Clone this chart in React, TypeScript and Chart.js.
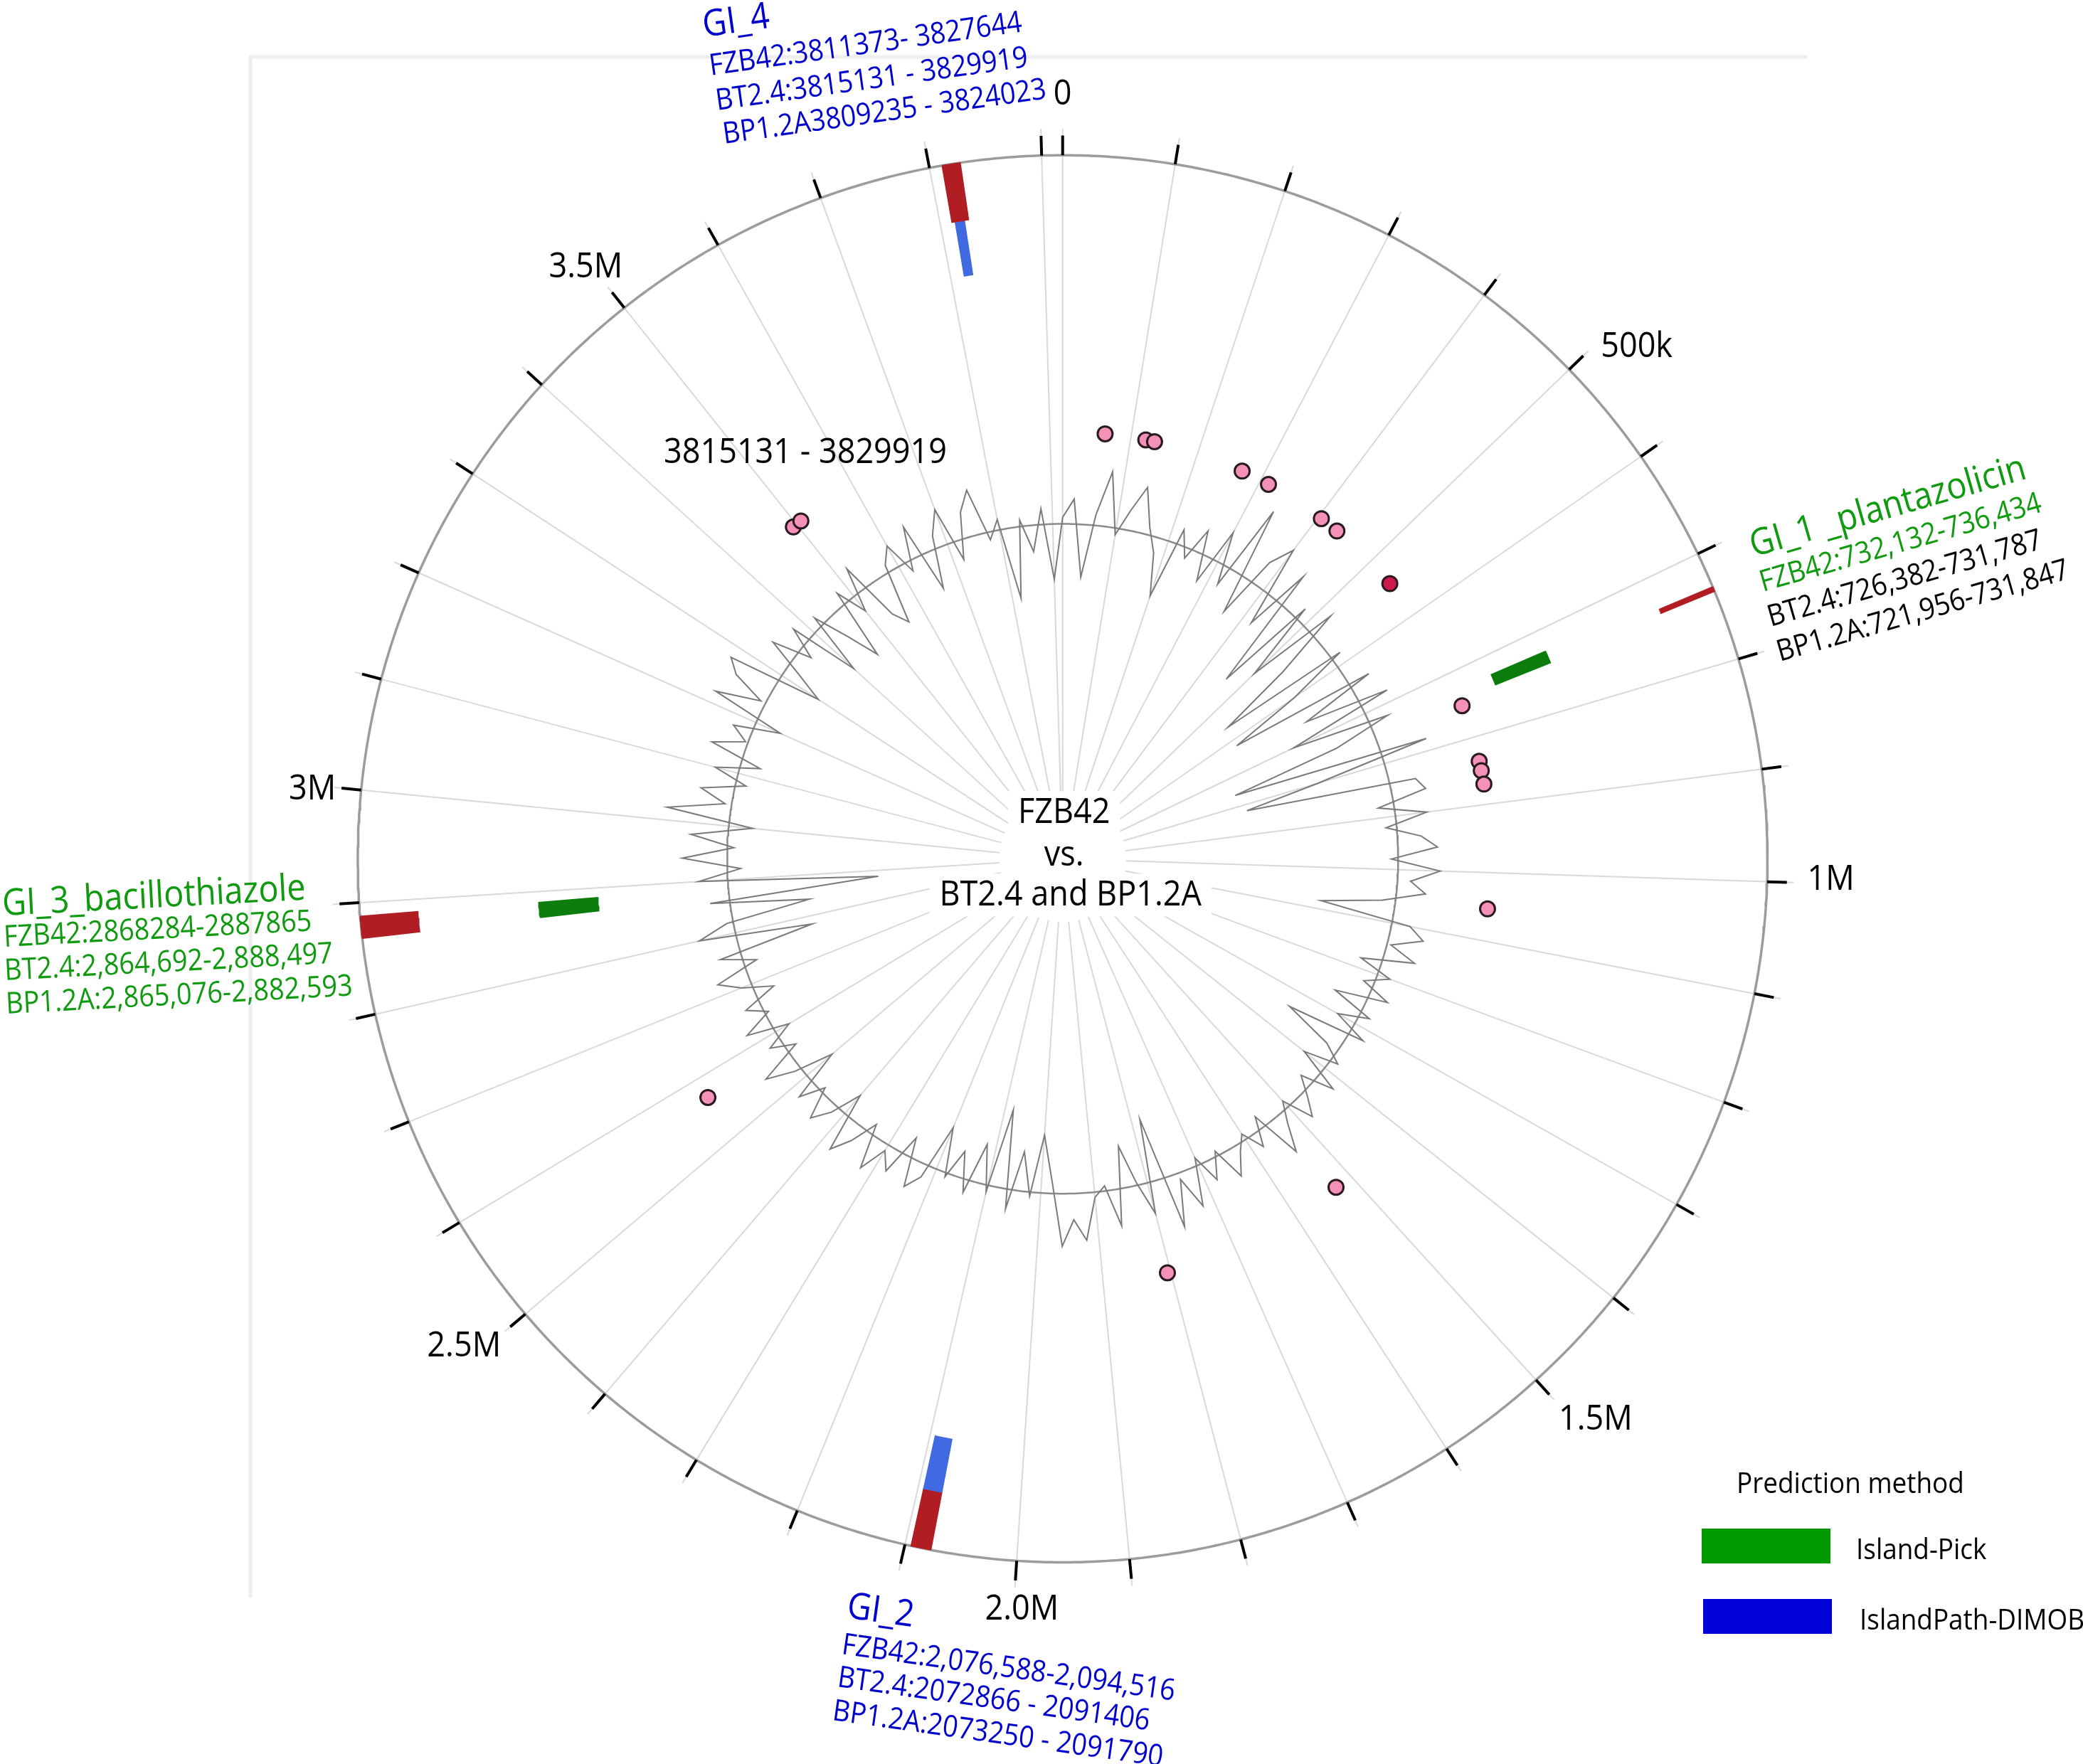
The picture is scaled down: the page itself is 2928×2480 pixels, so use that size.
import React, { useEffect, useRef } from 'react';
import { Chart, registerables } from 'chart.js';

Chart.register(...registerables);

const W = 2928;
const H = 2480;

// ---------------- data ----------------
const GENOME_LENGTH = 3918589;

const tickPositions = [
  0, 100000, 200000, 300000, 400000, 500000, 600000, 700000, 800000, 900000,
  1000000, 1100000, 1200000, 1300000, 1400000, 1500000, 1600000, 1700000, 1800000, 1900000,
  2000000, 2100000, 2200000, 2300000, 2400000, 2500000, 2600000, 2700000, 2800000, 2900000,
  3000000, 3100000, 3200000, 3300000, 3400000, 3500000, 3600000, 3700000, 3800000, 3900000,
];
const tickLabelPositions = [0, 500000, 1000000, 1500000, 2000000, 2500000, 3000000, 3500000];
const tickLabels = ['0', '500k', '1M', '1.5M', '2.0M', '2.5M', '3M', '3.5M'];

// GC content deviation (%) in 20 kb windows, from position 0
const gcWindow = 20000;
const gcDeviation = [
  0.5, 1.9, -4.0, 0.8, 4.2, -0.5, 1.5, 3.5, 0.6, -1.2,
  -4.4, 1.2, -0.8, 1.8, -2.0, 2.5, -1.5, 5.4, -3.0, 2.0,
  3.8, -2.5, 2.7, -7.0, 1.0, -5.2, 2.0, -3.5, -9.4, 0.8,
  -4.0, -9.7, 1.7, -4.2, 2.3, -6.0, 1.5, -3.0, -11.5, 3.6,
  -5.3, -11.0, 2.0, 2.6, -1.2, 2.4, -0.8, 1.8, 3.0, -0.5,
  3.2, 1.0, 2.2, -1.0, -5.6, 1.4, 2.6, 0.3, 2.4, -1.6,
  1.0, -0.8, 1.5, -2.5, 0.8, -1.5, 1.2, -4.9, -1.0, 0.6,
  -2.0, 1.5, -1.0, 0.4, 1.8, -0.6, 0.9, 3.0, -1.0, 1.2,
  -0.5, 0.6, 2.2, -0.4, 1.6, -0.6, 3.0, 0.5, 4.0, -4.8,
  2.4, -0.2, -3.2, 2.8, -0.4, 0.4, 3.6, 2.0, 4.0, -1.0,
  -4.4, 0.3, -3.0, 1.5, -6.0, 0.5, -3.0, 1.0, -2.0, 0.3,
  -3.4, 1.0, 2.2, -1.5, 1.8, 0.5, 2.6, -0.8, 1.3, 2.8,
  -1.8, 0.6, 2.0, -0.4, 1.5, -2.5, 0.5, 2.6, -0.8, 1.0,
  -1.2, 2.0, -0.3, 1.2, -1.5, 0.8, 2.4, -1.0, 1.6, -5.8,
  2.8, 0.5, -6.0, 1.5, -11.4, 2.2, -1.0, 3.4, -0.5, 2.8,
  -1.8, 4.8, 0.5, 2.5, -0.8, 1.8, -1.5, 2.6, 0.2, 1.5,
  -2.0, 3.8, 0.4, 3.0, 4.0, -3.3, -1.0, 2.0, -1.0, 1.4,
  -4.0, 0.8, -2.0, -4.5, 1.0, -1.4, 2.0, -2.8, -4.0, 0.6,
  1.8, -0.8, 2.5, -3.0, 1.0, 2.8, -1.5, 2.0, 3.5, -0.6,
  0.8, -5.4, 0.5, -2.0, 1.2, -4.2,
];

// genomic islands [start, end]
const fzb42Islands = [
  [732132, 736434],
  [2076588, 2094516],
  [2868284, 2887865],
  [3811373, 3827644],
];
const dimobIslands = [
  [2076588, 2094516],
  [3814500, 3823500],
];
const islandPickIslands = [
  [726000, 741000],
  [2869000, 2887000],
];

// feature points on the middle track
const pointPositions = [
  62000, 122000, 135000, 270000, 313000, 405000, 434000, 543000, 751000,
  836000, 850000, 870000, 1053000, 1527000, 1805000, 2569000, 3494000, 3508000,
];
const pointKinds = [
  'a', 'a', 'a', 'a', 'a', 'a', 'a', 'b', 'a',
  'a', 'a', 'a', 'a', 'a', 'a', 'a', 'a', 'a',
];

const gi4Lines = ['GI_4', 'FZB42:3811373- 3827644', 'BT2.4:3815131 - 3829919', 'BP1.2A3809235 - 3824023'];
const gi1Lines = ['GI_1 _plantazolicin', 'FZB42:732,132-736,434', 'BT2.4:726,382-731,787', 'BP1.2A:721,956-731,847'];
const gi3Lines = ['GI_3_bacillothiazole', 'FZB42:2868284-2887865', 'BT2.4:2,864,692-2,888,497', 'BP1.2A:2,865,076-2,882,593'];
const gi2Lines = ['GI_2', 'FZB42:2,076,588-2,094,516', 'BT2.4:2072866 - 2091406', 'BP1.2A:2073250 - 2091790'];
const centerLines = ['FZB42', 'vs.', 'BT2.4 and BP1.2A'];
const regionLabel = '3815131 - 3829919';
const legendTitle = 'Prediction method';
const legendItems = ['Island-Pick', 'IslandPath-DIMOB'];

// ---------------- layout ----------------
const CENTER_X = 1494;
const CENTER_Y = 1207;
const OUTER_PX = 1000;
const UNIT = OUTER_PX / 100;
const X_MIN = -CENTER_X / UNIT;
const X_MAX = (W - CENTER_X) / UNIT;
const Y_MAX = CENTER_Y / UNIT;
const Y_MIN = -(H - CENTER_Y) / UNIT;

const R_OUTER = 100;
const R_INNER = 47.6;
const R_POINTS = 60.7;
const R_TICK = 102.8;
const R_SPOKE_IN = 9;
const R_SPOKE_OUT = 103.8;
const RED_TRACK = [91.8, 100];
const BLUE_TRACK = [84, 91.8];
const GREEN_TRACK = [66.2, 74.6];
const GC_GAIN = 1.87;
// pixel offsets of tick label centres from the tick ends
const TICK_LABEL_OFFSETS = [
  [0, -58], [75, -12], [62, -4], [65, 35], [9, 41], [-65, 27], [-41, 2], [-37, -35],
];

const FONT = '"Open Sans", "Noto Sans", sans-serif';
const BLUE_TEXT = '#0000cc';
const GREEN_TEXT = '#109a10';

function polar(pos: number, r: number) {
  const a = (pos / GENOME_LENGTH) * Math.PI * 2;
  return { x: r * Math.sin(a), y: r * Math.cos(a) };
}
const GAP = { x: null as any, y: null as any };

function circlePoints(r: number) {
  const pts = [];
  const n = 720;
  for (let i = 0; i <= n; i++) pts.push(polar((i / n) * GENOME_LENGTH, r));
  return pts;
}

function radialSegments(positions: number[], r1: number, r2: number) {
  const pts: any[] = [];
  positions.forEach((p) => {
    pts.push(polar(p, r1), polar(p, r2), GAP);
  });
  return pts;
}

function sectorPolygon(start: number, end: number, r1: number, r2: number) {
  const pts: any[] = [];
  const steps = 6;
  for (let i = 0; i <= steps; i++) pts.push(polar(start + ((end - start) * i) / steps, r2));
  for (let i = steps; i >= 0; i--) pts.push(polar(start + ((end - start) * i) / steps, r1));
  pts.push(polar(start, r2));
  return pts;
}

function lineDs(data: any[], color: string, width: number, order: number) {
  return {
    data,
    showLine: true,
    borderColor: color,
    borderWidth: width,
    pointRadius: 0,
    fill: false,
    spanGaps: false,
    order,
  };
}

function sectorDs(range: number[], track: number[], color: string) {
  return {
    data: sectorPolygon(range[0], range[1], track[0], track[1]),
    showLine: true,
    borderColor: color,
    backgroundColor: color,
    borderWidth: 1.5,
    pointRadius: 0,
    fill: 'shape',
    order: 2,
  };
}

function drawText(
  ctx: CanvasRenderingContext2D,
  text: string,
  x: number,
  y: number,
  size: number,
  color: string,
  rot = 0,
  align: CanvasTextAlign = 'left',
  baseline: CanvasTextBaseline = 'alphabetic',
) {
  ctx.save();
  ctx.translate(x, y);
  ctx.rotate((rot * Math.PI) / 180);
  ctx.scale(0.9, 1);
  ctx.font = `${size}px ${FONT}`;
  ctx.fillStyle = color;
  ctx.textAlign = align;
  ctx.textBaseline = baseline;
  ctx.fillText(text, 0, 0);
  ctx.restore();
}

const framePlugin = {
  id: 'frameLines',
  beforeDatasetsDraw(chart: any) {
    const ctx = chart.ctx;
    ctx.save();
    ctx.strokeStyle = '#eeeeee';
    ctx.lineWidth = 5;
    ctx.beginPath();
    ctx.moveTo(2540, 80);
    ctx.lineTo(352, 80);
    ctx.lineTo(352, 2246);
    ctx.stroke();
    ctx.restore();
  },
};

const textPlugin = {
  id: 'genomeText',
  afterDatasetsDraw(chart: any) {
    const ctx: CanvasRenderingContext2D = chart.ctx;
    const xs = chart.scales.x;
    const ys = chart.scales.y;
    const toPx = (p: { x: number; y: number }) => ({ x: xs.getPixelForValue(p.x), y: ys.getPixelForValue(p.y) });

    // tick labels, placed beyond the tick ends
    tickLabelPositions.forEach((pos, i) => {
      const p = toPx(polar(pos, R_TICK));
      const o = TICK_LABEL_OFFSETS[i];
      drawText(ctx, tickLabels[i], p.x + o[0], p.y + o[1], 50, '#000', 0, 'center', 'middle');
    });

    // centre text with white boxes
    const c = toPx({ x: 0, y: 0 });
    const offs = [
      { dx: 2, dy: -65 },
      { dx: 2, dy: -5 },
      { dx: 11, dy: 51 },
    ];
    ctx.save();
    ctx.font = `50px ${FONT}`;
    centerLines.forEach((t, i) => {
      const w = ctx.measureText(t).width * 0.9;
      ctx.fillStyle = '#fff';
      ctx.fillRect(c.x + offs[i].dx - w / 2 - 14, c.y + offs[i].dy - 30, w + 28, 60);
    });
    ctx.restore();
    centerLines.forEach((t, i) => {
      drawText(ctx, t, c.x + offs[i].dx, c.y + offs[i].dy, 50, '#000', 0, 'center', 'middle');
    });

    drawText(ctx, regionLabel, 1132, 637, 50, '#000', 0, 'center', 'middle');

    // GI_4 block
    const gi4Pos = [[990, 52], [999, 106], [1008, 155], [1018, 202]];
    gi4Lines.forEach((t, i) => drawText(ctx, t, gi4Pos[i][0], gi4Pos[i][1], i === 0 ? 52 : 42, BLUE_TEXT, -8));

    // GI_1 block
    const gi1Pos = [[2465, 783], [2478, 832], [2489, 881], [2502, 930]];
    const gi1Col = [GREEN_TEXT, GREEN_TEXT, '#000', '#000'];
    gi1Lines.forEach((t, i) => drawText(ctx, t, gi1Pos[i][0], gi1Pos[i][1], i === 0 ? 52 : 42, gi1Col[i], -16));

    // GI_3 block
    const gi3Pos = [[4, 1287], [6, 1331], [7, 1378], [9, 1425]];
    gi3Lines.forEach((t, i) => drawText(ctx, t, gi3Pos[i][0], gi3Pos[i][1], i === 0 ? 52 : 42, GREEN_TEXT, -3));

    // GI_2 block
    const gi2Pos = [[1189, 2274], [1182, 2325], [1176, 2371], [1169, 2418]];
    gi2Lines.forEach((t, i) => drawText(ctx, t, gi2Pos[i][0], gi2Pos[i][1], i === 0 ? 52 : 42, BLUE_TEXT, 8));

    // legend
    drawText(ctx, legendTitle, 2441, 2099, 41, '#000');
    ctx.save();
    ctx.fillStyle = '#009a00';
    ctx.fillRect(2392, 2149, 181, 49);
    ctx.fillStyle = '#0000d8';
    ctx.fillRect(2394, 2248, 181, 49);
    ctx.restore();
    drawText(ctx, legendItems[0], 2609, 2192, 41, '#000');
    drawText(ctx, legendItems[1], 2614, 2291, 41, '#000');
  },
};

export default function App() {
  const ref = useRef<HTMLCanvasElement>(null);

  useEffect(() => {
    const canvas = ref.current;
    if (!canvas) return;

    const gcPoints = gcDeviation.map((d, i) => polar(i * gcWindow, R_INNER + d * GC_GAIN));
    gcPoints.push(gcPoints[0]);

    const datasets: any[] = [
      lineDs(radialSegments(tickPositions, R_SPOKE_IN, R_SPOKE_OUT), '#d9d9d9', 2, 10),
      lineDs(circlePoints(R_OUTER), '#9c9c9c', 3.5, 8),
      lineDs(radialSegments(tickPositions, R_OUTER, R_TICK), '#000000', 4, 7),
      lineDs(circlePoints(R_INNER), '#8a8a8a', 2.5, 6),
      lineDs(gcPoints, '#7a7a7a', 2, 5),
      ...fzb42Islands.map((r) => sectorDs(r, RED_TRACK, '#b01e23')),
      ...dimobIslands.map((r) => sectorDs(r, BLUE_TRACK, '#4169e1')),
      ...islandPickIslands.map((r) => sectorDs(r, GREEN_TRACK, '#0c7d0c')),
      {
        data: pointPositions.map((p) => polar(p, R_POINTS)),
        showLine: false,
        pointRadius: 10.5,
        pointBorderWidth: 3,
        pointBorderColor: '#2a1a20',
        pointBackgroundColor: pointKinds.map((k) => (k === 'b' ? '#cc1a4a' : '#f590b8')),
        order: 0,
      },
    ];

    const chart = new Chart(canvas, {
      type: 'scatter',
      data: { datasets },
      options: {
        animation: false,
        responsive: false,
        maintainAspectRatio: false,
        events: [],
        layout: { padding: 0 },
        plugins: { legend: { display: false }, tooltip: { enabled: false } },
        scales: {
          x: { type: 'linear', display: false, min: X_MIN, max: X_MAX },
          y: { type: 'linear', display: false, min: Y_MIN, max: Y_MAX },
        },
      } as any,
      plugins: [framePlugin, textPlugin],
    } as any);

    return () => chart.destroy();
  }, []);

  return (
    <div style={{ position: 'absolute', left: 0, top: 0, width: W, height: H, background: '#fff' }}>
      <canvas ref={ref} width={W} height={H} style={{ display: 'block', width: W, height: H }} />
    </div>
  );
}
